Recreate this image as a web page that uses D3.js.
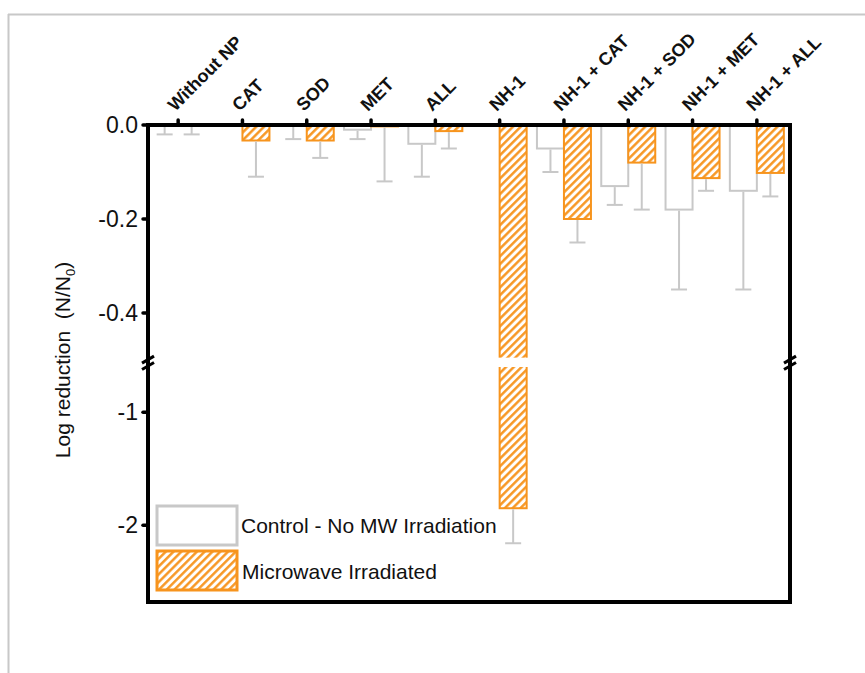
<!DOCTYPE html>
<html>
<head>
<meta charset="utf-8">
<script src="https://cdn.jsdelivr.net/npm/d3@7"></script>
<style>
  html, body { margin: 0; padding: 0; background: #fff; }
  svg { display: block; font-family: "Liberation Sans", Arial, Helvetica, sans-serif; }
</style>
</head>
<body>
<svg id="chart" width="865" height="673"></svg>
<script>
// ---- data ----
const categories = ["Without NP", "CAT", "SOD", "MET", "ALL", "NH-1", "NH-1 + CAT", "NH-1 + SOD", "NH-1 + MET", "NH-1 + ALL"];
const controlValues = [0, 0, 0, -0.01, -0.04, 0, -0.05, -0.13, -0.18, -0.14];
const controlErrors = [0.02, 0, 0.03, 0.02, 0.07, 0, 0.05, 0.04, 0.17, 0.21];
const microwaveValues = [0, -0.033, -0.033, -0.003, -0.013, -1.85, -0.2, -0.08, -0.113, -0.102];
const microwaveErrors = [0.02, 0.077, 0.037, 0.117, 0.037, 0.31, 0.05, 0.1, 0.027, 0.05];
const upperTicks = [0, -0.2, -0.4];
const upperTickLabels = ["0.0", "-0.2", "-0.4"];
const lowerTicks = [-1, -2];
const lowerTickLabels = ["-1", "-2"];
const seriesNames = ["Control - No MW Irradiation", "Microwave Irradiated"];

// ---- layout ----
const svg = d3.select("#chart");
const L = 148, R = 790, T = 125, B = 602;
const ORANGE = "#F7941D", GREY = "#c8c8c8";

const x = d3.scaleBand().domain(categories).range([146, 789]).padding(0);
const barW = 27;
const yTop = d3.scaleLinear().domain([0, -0.5]).range([T, 360]);
const yBot = d3.scaleLinear().domain([-0.6, -2.68]).range([367, B]);
const breakTop = -0.495, breakBot = -0.6;
const y = v => (v >= breakTop ? yTop(v) : yBot(v));
const cx = c => x(c) + x.bandwidth() / 2;

// outer light border
svg.append("line").attr("x1", 8).attr("x2", 865).attr("y1", 14.5).attr("y2", 14.5)
  .attr("stroke", GREY).attr("stroke-width", 2);
svg.append("line").attr("x1", 8.5).attr("x2", 8.5).attr("y1", 14).attr("y2", 673)
  .attr("stroke", GREY).attr("stroke-width", 2);

// hatch pattern
const defs = svg.append("defs");
const pat = defs.append("pattern").attr("id", "hatch").attr("patternUnits", "userSpaceOnUse")
  .attr("width", 5.5).attr("height", 5.5).attr("patternTransform", "rotate(45)");
pat.append("rect").attr("width", 5.5).attr("height", 5.5).attr("fill", "#fff");
pat.append("line").attr("x1", 1.3).attr("x2", 1.3).attr("y1", 0).attr("y2", 5.5)
  .attr("stroke", ORANGE).attr("stroke-width", 2.4);

const rows = categories.map((c, i) => ({
  c, cv: controlValues[i], ce: controlErrors[i], mv: microwaveValues[i], me: microwaveErrors[i]
}));

// control bars
svg.append("g").selectAll("rect").data(rows.filter(d => d.cv < 0)).join("rect")
  .attr("x", d => cx(d.c) - barW).attr("width", barW)
  .attr("y", y(0)).attr("height", d => y(d.cv) - y(0))
  .attr("fill", "#fff").attr("stroke", GREY).attr("stroke-width", 2);

// microwave bars
svg.append("g").selectAll("rect").data(rows.filter(d => d.mv < 0)).join("rect")
  .attr("x", d => cx(d.c)).attr("width", barW)
  .attr("y", y(0)).attr("height", d => y(d.mv) - y(0))
  .attr("fill", "url(#hatch)").attr("stroke", ORANGE).attr("stroke-width", 2);

// gap across bars that cross the break
svg.append("g").selectAll("rect").data(rows.filter(d => d.mv < breakBot)).join("rect")
  .attr("x", d => cx(d.c) - 3).attr("width", barW + 6)
  .attr("y", yTop(breakTop)).attr("height", yBot(breakBot) - yTop(breakTop))
  .attr("fill", "#fff");

// error bars
function errBars(data, offset, vKey, eKey) {
  const g = svg.append("g").attr("stroke", GREY).attr("stroke-width", 2).attr("fill", "none");
  const dd = data.filter(d => d[eKey] > 0);
  g.selectAll("line.v").data(dd).join("line").attr("class", "v")
    .attr("x1", d => cx(d.c) + offset).attr("x2", d => cx(d.c) + offset)
    .attr("y1", d => y(d[vKey]) + 1).attr("y2", d => y(d[vKey] - d[eKey]));
  g.selectAll("line.h").data(dd).join("line").attr("class", "h")
    .attr("x1", d => cx(d.c) + offset - 8).attr("x2", d => cx(d.c) + offset + 8)
    .attr("y1", d => y(d[vKey] - d[eKey])).attr("y2", d => y(d[vKey] - d[eKey]));
}
errBars(rows, -barW / 2, "cv", "ce");
errBars(rows, barW / 2, "mv", "me");

// frame
svg.append("rect").attr("x", L).attr("y", T).attr("width", R - L).attr("height", B - T)
  .attr("fill", "none").attr("stroke", "#000").attr("stroke-width", 4);

// y ticks
const yt = upperTicks.map((v, i) => ({ v, label: upperTickLabels[i], py: yTop(v) }))
  .concat(lowerTicks.map((v, i) => ({ v, label: lowerTickLabels[i], py: yBot(v) })));
const ytG = svg.append("g");
ytG.selectAll("line").data(yt).join("line")
  .attr("x1", L - 5).attr("x2", L).attr("y1", d => d.py).attr("y2", d => d.py)
  .attr("stroke", "#000").attr("stroke-width", 3.5).attr("stroke-linecap", "round");
ytG.selectAll("text").data(yt).join("text")
  .attr("x", L - 10).attr("y", d => d.py).attr("dy", "0.36em")
  .attr("text-anchor", "end").attr("font-size", 23).attr("fill", "#111")
  .text(d => d.label);

// category ticks + labels
const xtG = svg.append("g");
xtG.selectAll("line").data(categories).join("line")
  .attr("x1", d => cx(d)).attr("x2", d => cx(d)).attr("y1", T).attr("y2", T - 5)
  .attr("stroke", "#000").attr("stroke-width", 3.5).attr("stroke-linecap", "round");
xtG.selectAll("text").data(categories).join("text")
  .attr("transform", d => `translate(${cx(d) - 3},${T - 13}) rotate(-45)`)
  .attr("font-size", 18).attr("font-weight", "bold").attr("fill", "#111")
  .text(d => d);

// axis break marks
[L, R].forEach(ax => {
  [yTop(breakTop) + 2, yBot(breakBot) - 1].forEach(py => {
    svg.append("line").attr("x1", ax - 6).attr("x2", ax + 6).attr("y1", py + 3.5).attr("y2", py - 3.5)
      .attr("stroke", "#000").attr("stroke-width", 3);
  });
});

// y axis title
const title = svg.append("text").attr("transform", "translate(70,360) rotate(-90)")
  .attr("text-anchor", "middle").attr("font-size", 21).attr("fill", "#111");
title.append("tspan").text("Log reduction\u00a0\u00a0(N/N");
title.append("tspan").attr("font-size", 13).attr("dy", 5).text("0");
title.append("tspan").attr("dy", -5).text(")");

// legend
const leg = svg.append("g");
leg.append("rect").attr("x", 157).attr("y", 506).attr("width", 80).attr("height", 39)
  .attr("fill", "#fff").attr("stroke", GREY).attr("stroke-width", 3);
leg.append("rect").attr("x", 157).attr("y", 551).attr("width", 80).attr("height", 39)
  .attr("fill", "url(#hatch)").attr("stroke", ORANGE).attr("stroke-width", 3);
leg.append("text").attr("x", 241).attr("y", 533).attr("font-size", 21).attr("fill", "#111").text(seriesNames[0]);
leg.append("text").attr("x", 242).attr("y", 579).attr("font-size", 21).attr("fill", "#111").text(seriesNames[1]);
</script>
</body>
</html>
